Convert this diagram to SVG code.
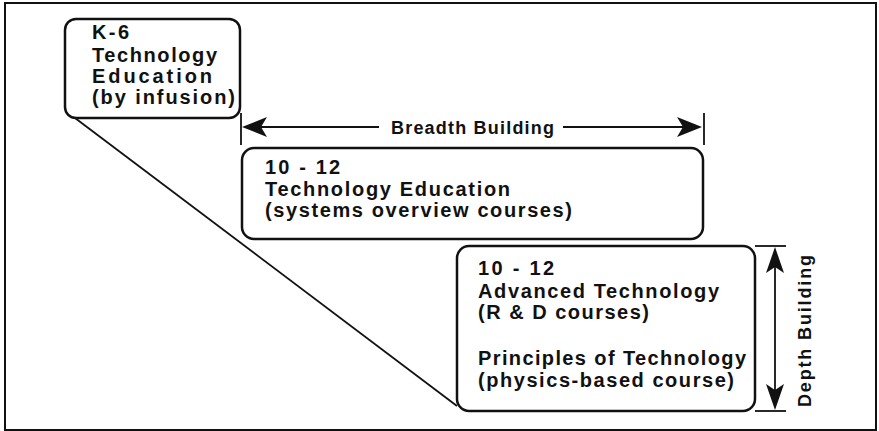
<svg xmlns="http://www.w3.org/2000/svg" width="879" height="431" viewBox="0 0 879 431">
  <defs>
    <style>
      .frame { fill: none; stroke: #111; stroke-width: 2; }
      .box { fill: #fff; stroke: #111; stroke-width: 2.5; }
      .line { fill: none; stroke: #111; stroke-width: 1.8; }
      .head { fill: #111; stroke: none; }
      .label { font-family: "Liberation Sans", Arial, Helvetica, sans-serif; font-weight: bold; font-size: 20px; fill: #111; }
      .axis { font-family: "Liberation Sans", Arial, Helvetica, sans-serif; font-weight: bold; font-size: 18px; fill: #111; }
    </style>
  </defs>
  <rect width="879" height="431" fill="#fff"/>
  <rect class="frame" x="5" y="3" width="871" height="427"/>

  <g id="connectors">
    <!-- slope joining the K-6 box to the depth box -->
    <line class="line" x1="75" y1="118" x2="457" y2="406"/>
    <!-- breadth span -->
    <line class="line" x1="241" y1="113" x2="241" y2="145"/>
    <line class="line" x1="704" y1="113" x2="704" y2="145"/>
    <line class="line" x1="260" y1="127" x2="379" y2="127"/>
    <line class="line" x1="563" y1="127" x2="684" y2="127"/>
    <path class="head" d="M242,127 L267,117 L261,127 L267,137 Z"/>
    <path class="head" d="M702,127 L677,117 L683,127 L677,137 Z"/>
    <text class="axis" x="391" y="133.5" textLength="163" lengthAdjust="spacing">Breadth Building</text>
    <!-- depth span -->
    <line class="line" x1="755" y1="246" x2="786" y2="246"/>
    <line class="line" x1="755" y1="411" x2="786" y2="411"/>
    <line class="line" x1="775" y1="265" x2="775" y2="392"/>
    <path class="head" d="M775,247 L766,273 L775,267 L784,273 Z"/>
    <path class="head" d="M775,410 L766,384 L775,390 L784,384 Z"/>
    <text class="axis" transform="translate(811,407) rotate(-90)" x="0" y="0" textLength="152" lengthAdjust="spacing">Depth Building</text>
  </g>

  <g id="k6">
    <rect class="box" x="65" y="19" width="175" height="99" rx="11"/>
    <text class="label" x="92" y="39" textLength="37" lengthAdjust="spacing">K-6</text>
    <text class="label" x="92" y="61.5" textLength="125" lengthAdjust="spacing">Technology</text>
    <text class="label" x="92" y="82.5" textLength="120" lengthAdjust="spacing">Education</text>
    <text class="label" x="92" y="103.5" textLength="143" lengthAdjust="spacing">(by infusion)</text>
  </g>

  <g id="tech-ed">
    <rect class="box" x="242" y="148" width="461" height="91" rx="12"/>
    <text class="label" x="265" y="174" textLength="75" lengthAdjust="spacing">10 - 12</text>
    <text class="label" x="265" y="195.5" textLength="245" lengthAdjust="spacing">Technology Education</text>
    <text class="label" x="265" y="217" textLength="307" lengthAdjust="spacing">(systems overview courses)</text>
  </g>

  <g id="advanced">
    <rect class="box" x="457" y="246" width="298" height="165" rx="12"/>
    <text class="label" x="478" y="275" textLength="76" lengthAdjust="spacing">10 - 12</text>
    <text class="label" x="478" y="297.5" textLength="241" lengthAdjust="spacing">Advanced Technology</text>
    <text class="label" x="478" y="318.5" textLength="171" lengthAdjust="spacing">(R &amp; D courses)</text>
    <text class="label" x="478" y="365" textLength="268" lengthAdjust="spacing">Principles of Technology</text>
    <text class="label" x="478" y="386.5" textLength="256" lengthAdjust="spacing">(physics-based course)</text>
  </g>
</svg>
